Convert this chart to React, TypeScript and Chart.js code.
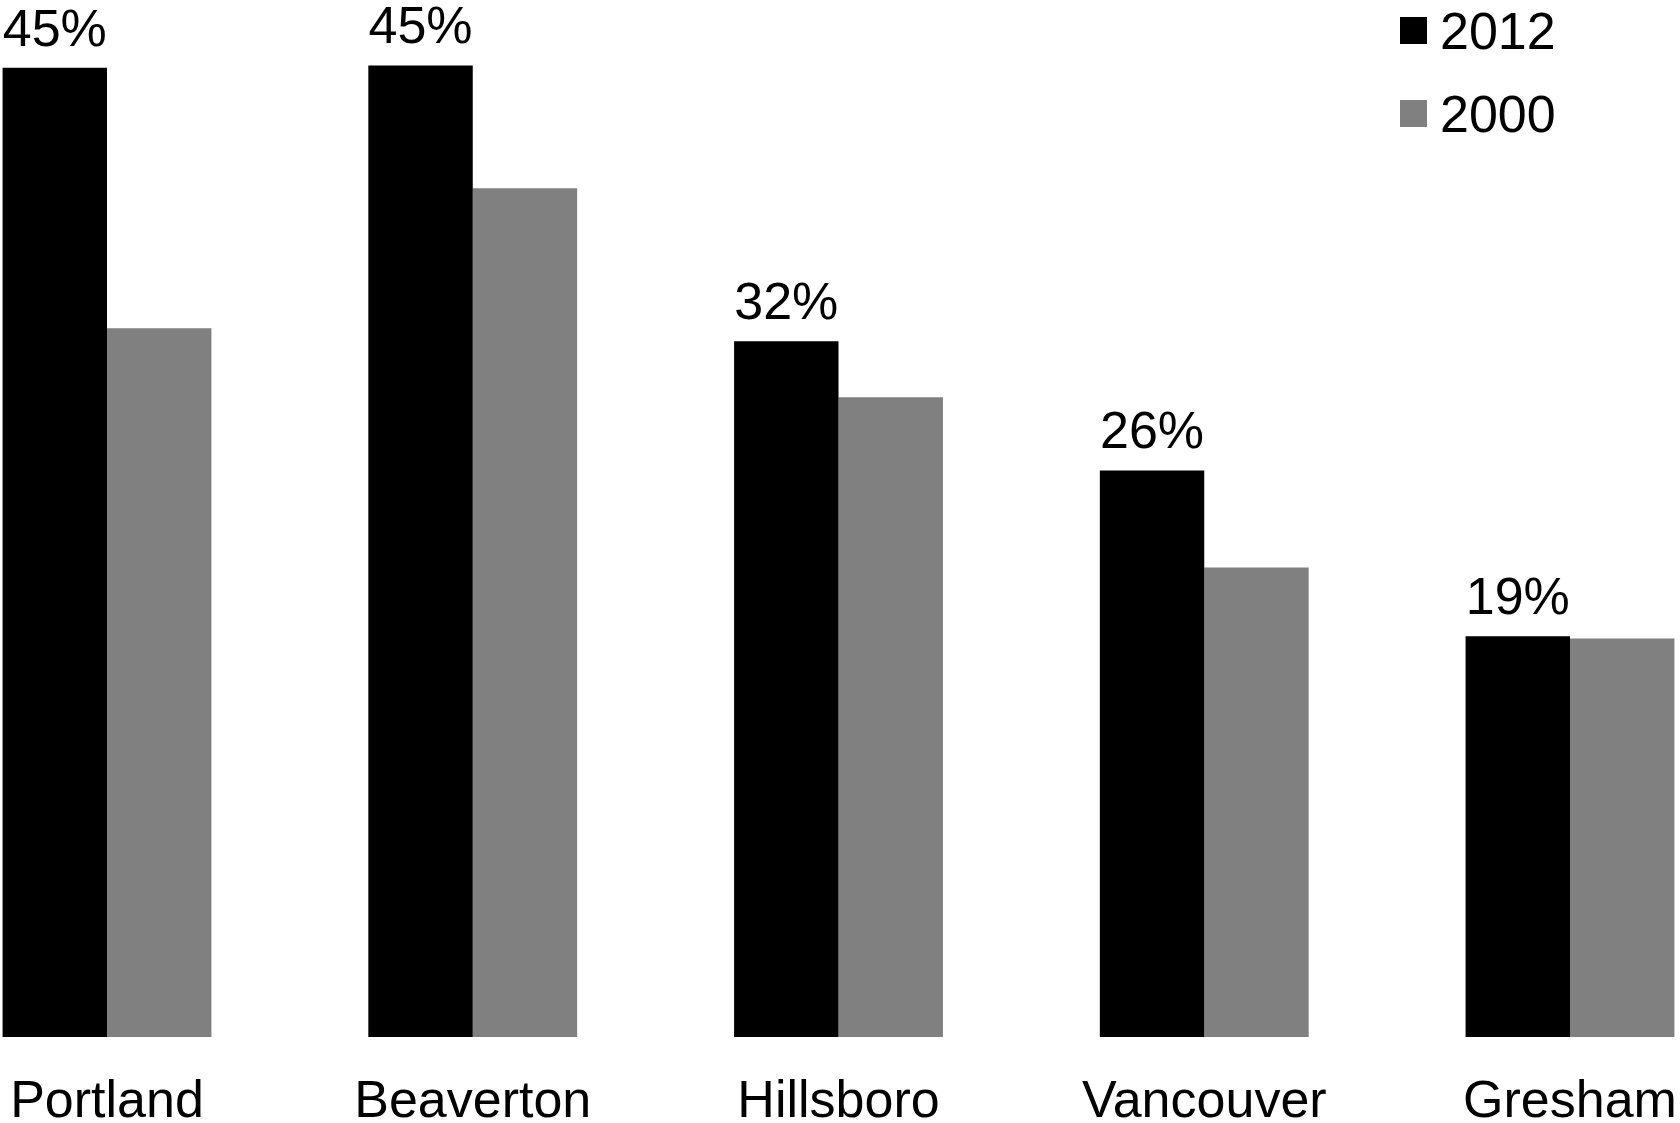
import React, { useEffect, useRef } from "react";
import { Chart, registerables } from "chart.js";

Chart.register(...registerables);

const categories = ["Portland", "Beaverton", "Hillsboro", "Vancouver", "Gresham"];
const values2012 = [45.0, 45.1, 32.3, 26.3, 18.6];
const values2000 = [32.9, 39.4, 29.7, 21.8, 18.5];
const labels2012 = ["45%", "45%", "32%", "26%", "19%"];
const seriesNames = ["2012", "2000"];
const seriesColors = ["#000000", "#808080"];

const FONT = "'Liberation Sans', Arial, sans-serif";

const labelPlugin = {
  id: "barLabels",
  afterDatasetsDraw(chart: any) {
    const ctx = chart.ctx;
    const meta = chart.getDatasetMeta(0);
    ctx.save();
    ctx.font = `52px ${FONT}`;
    ctx.fillStyle = "#000";
    ctx.textAlign = "center";
    ctx.textBaseline = "alphabetic";
    meta.data.forEach((el: any, i: number) => {
      ctx.fillText(labels2012[i], el.x, el.y - 22);
    });
    ctx.restore();
  },
};

const legendPlugin = {
  id: "customLegend",
  afterDraw(chart: any) {
    const ctx = chart.ctx;
    ctx.save();
    ctx.font = `52px ${FONT}`;
    ctx.textAlign = "left";
    ctx.textBaseline = "alphabetic";
    chart.data.datasets.forEach((ds: any, i: number) => {
      const top = 17 + i * 83;
      ctx.fillStyle = ds.backgroundColor;
      ctx.fillRect(1400, top, 27, 27);
      ctx.fillStyle = "#000";
      ctx.fillText(ds.label, 1440, top + 32);
    });
    ctx.restore();
  },
};

export default function App() {
  const ref = useRef<HTMLCanvasElement>(null);
  useEffect(() => {
    if (!ref.current) return;
    const chart = new Chart(ref.current, {
      type: "bar",
      data: {
        labels: categories,
        datasets: [
          {
            label: seriesNames[0],
            data: values2012,
            backgroundColor: seriesColors[0],
            borderWidth: 0,
            clip: false as any,
          },
          {
            label: seriesNames[1],
            data: values2000,
            backgroundColor: seriesColors[1],
            borderWidth: 0,
            clip: false as any,
          },
        ],
      },
      options: {
        responsive: false,
        animation: false,
        devicePixelRatio: 1,
        layout: { padding: { left: 107, right: 110, top: 3, bottom: 0 } },
        datasets: {
          bar: { categoryPercentage: 0.571, barPercentage: 1.0 },
        },
        plugins: {
          legend: { display: false },
          tooltip: { enabled: false },
        },
        scales: {
          x: {
            offset: false,
            grid: { display: false, drawTicks: true, tickLength: 34 },
            border: { display: false },
            ticks: {
              color: "#000",
              font: { family: FONT, size: 52 },
              padding: 0,
              maxRotation: 0,
              autoSkip: false,
            },
            afterFit: (axis: any) => {
              axis.height = 86;
            },
          },
          y: {
            display: false,
            min: 0,
            max: 48,
          },
        },
      },
      plugins: [labelPlugin, legendPlugin],
    });
    return () => chart.destroy();
  }, []);
  return (
    <div style={{ position: "fixed", left: 0, top: 0, width: 1680, height: 1123, background: "#fff" }}>
      <canvas ref={ref} width={1680} height={1123} style={{ width: 1680, height: 1123 }} />
    </div>
  );
}
